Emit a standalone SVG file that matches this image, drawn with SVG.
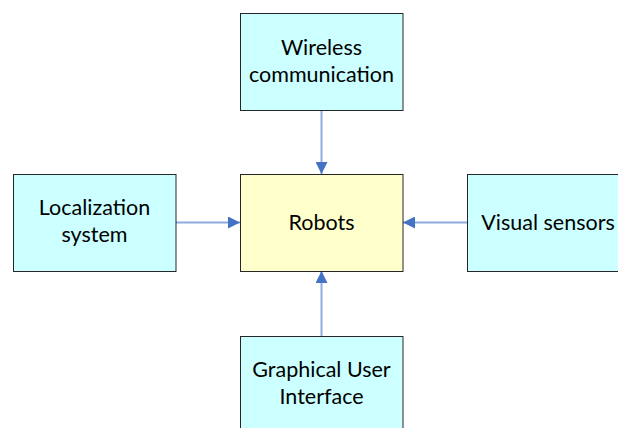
<svg xmlns="http://www.w3.org/2000/svg" width="618" height="428" viewBox="0 0 618 428">
  <style>
    .box { stroke: #262626; stroke-width: 1; }
    .cyan { fill: #CCFFFF; }
    .yellow { fill: #FFFFCC; }
    .lbl { font-family: Lato, "Open Sans", "Liberation Sans", sans-serif; font-size: 21.5px; fill: #000; text-anchor: middle; }
    .conn { stroke: #8FAADC; stroke-width: 2; fill: none; }
  </style>
  <defs>
    <marker id="arrow" viewBox="0 0 12 12" refX="12" refY="6" markerWidth="12" markerHeight="12" markerUnits="userSpaceOnUse" orient="auto">
      <path d="M0,0 L12,6 L0,12 Z" fill="#4472C4"/>
    </marker>
  </defs>
  <rect width="618" height="428" fill="#FFFFFF"/>

  <g id="connectors">
    <line class="conn" x1="321.5" y1="110" x2="321.5" y2="174" marker-end="url(#arrow)"/>
    <line class="conn" x1="176" y1="222.5" x2="240" y2="222.5" marker-end="url(#arrow)"/>
    <line class="conn" x1="467" y1="222.5" x2="403" y2="222.5" marker-end="url(#arrow)"/>
    <line class="conn" x1="321.5" y1="336" x2="321.5" y2="271" marker-end="url(#arrow)"/>
  </g>

  <g id="wireless">
    <rect class="box cyan" x="240.5" y="13.5" width="162.5" height="97"/>
    <text class="lbl" x="321.5" y="55">Wireless</text>
    <text class="lbl" x="321.5" y="82">communication</text>
  </g>

  <g id="localization">
    <rect class="box cyan" x="13.5" y="174.5" width="162.5" height="97"/>
    <text class="lbl" x="94.5" y="215">Localization</text>
    <text class="lbl" x="94.5" y="242">system</text>
  </g>

  <g id="robots">
    <rect class="box yellow" x="240.5" y="174.5" width="162.5" height="97"/>
    <text class="lbl" x="321.5" y="230">Robots</text>
  </g>

  <g id="visual">
    <rect class="box cyan" x="467.5" y="174.5" width="162.5" height="97"/>
    <text class="lbl" x="548" y="229.5">Visual sensors</text>
  </g>

  <g id="gui">
    <rect class="box cyan" x="240.5" y="336.5" width="162.5" height="97"/>
    <text class="lbl" x="321.5" y="377">Graphical User</text>
    <text class="lbl" x="321.5" y="404">Interface</text>
  </g>
</svg>
